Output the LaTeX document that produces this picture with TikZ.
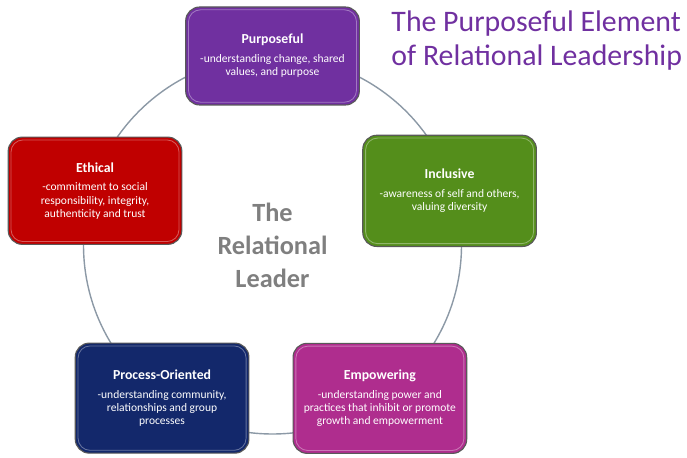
\documentclass[tikz,border=0pt]{standalone}
\usepackage{fontspec}
\setmainfont{Carlito}
\usepackage{xcolor}
\usetikzlibrary{calc}
\usetikzlibrary{positioning}

\definecolor{purposecol}{HTML}{7030A0}
\definecolor{inclusivecol}{HTML}{548E1B}
\definecolor{ethicalcol}{HTML}{C00000}
\definecolor{processcol}{HTML}{13286B}
\definecolor{empowercol}{HTML}{AF2D8E}
\definecolor{ringcol}{HTML}{8C99A6}
\definecolor{leadercol}{HTML}{7F7F7F}

\tikzset{
  glint/.style={white,opacity=.35,line width=.6pt,rounded corners=0.3cm},
  elembox/.style={rectangle,rounded corners=0.35cm,draw=black!65,line width=0.8pt,
    minimum width=4.3cm,text width=4.2cm,align=flush center,text=white,inner sep=2pt,
    path picture={\draw[glint] ([shift={(0.07,-0.07)}]path picture bounding box.north west)
      rectangle ([shift={(-0.07,0.07)}]path picture bounding box.south east);}},
}

\begin{document}
\begin{tikzpicture}
  \useasboundingbox (0,0) rectangle (17.175,11.425);
  \coordinate (c) at (6.8125,5.3);
  % ring behind the boxes
  \draw[ringcol,line width=1pt] (c) circle (4.725cm);
  \node[font=\bfseries\fontsize{18.7}{23.5}\selectfont,text=leadercol,align=center] (leader) at (c) {The\\Relational\\Leader};
  \foreach \ang/\rad/\elem/\hgt/\col/\head/\desc in {
      90/4.725/purposeful/2.45cm/purposecol/Purposeful/{-understanding change, shared\\values, and purpose},
      17/4.63/inclusive/2.78cm/inclusivecol/Inclusive/{-awareness of self and others,\\valuing diversity},
      163/4.64/ethical/2.68cm/ethicalcol/Ethical/{-commitment to social\\responsibility, integrity,\\authenticity and trust},
      234.2/4.72/process/2.75cm/processcol/Process-Oriented/{-understanding community,\\relationships and group\\processes},
      305/4.68/empowering/2.75cm/empowercol/Empowering/{-understanding power and\\practices that inhibit or promote\\growth and empowerment}
  }{
    \node[elembox,fill=\col,minimum height=\hgt] (\elem) at ($(c)+(\ang:\rad)$)
      {{\bfseries\fontsize{9.8}{11}\selectfont \head}\\[4pt]{\fontsize{8.2}{9.4}\selectfont \desc\par}};
  }
  \node[anchor=north west,align=left,text=purposecol,font=\fontsize{21.2}{24.5}\selectfont,inner sep=0pt] (heading) at (9.78,11.17)
    {The Purposeful Element\\of Relational Leadership};
\end{tikzpicture}
\end{document}
